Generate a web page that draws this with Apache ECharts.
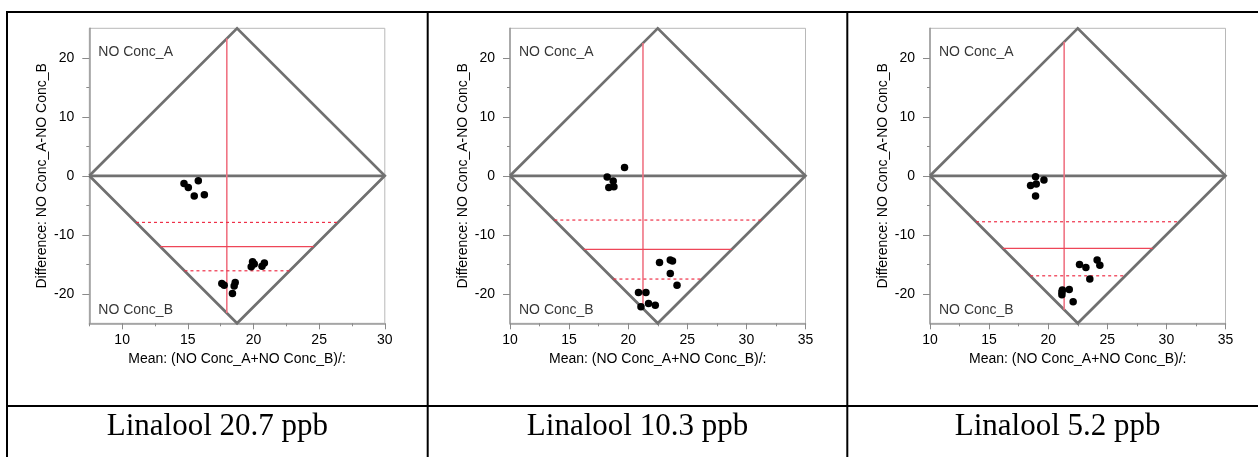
<!DOCTYPE html>
<html>
<head>
<meta charset="utf-8">
<script src="https://cdn.jsdelivr.net/npm/echarts@6/dist/echarts.min.js"></script>
<style>
html,body{margin:0;padding:0;background:#fff;}
#chart{width:1258px;height:457px;}
</style>
</head>
<body>
<div id="chart"></div>
<script>
// ---------- data ----------
const captions = ['Linalool 20.7 ppb', 'Linalool 10.3 ppb', 'Linalool 5.2 ppb'];
const xTitle = 'Mean: (NO Conc_A+NO Conc_B)/:';
const yTitle = 'Difference: NO Conc_A-NO Conc_B';
const labelA = 'NO Conc_A';
const labelB = 'NO Conc_B';

const xRange1 = [7.5, 30];
const xRange2 = [10, 35];
const xRange3 = [10, 35];
const yRange = [-25, 25];

const xTicks1 = [10, 15, 20, 25, 30];
const xTicks2 = [10, 15, 20, 25, 30, 35];
const xTicks3 = [10, 15, 20, 25, 30, 35];
const xMinor1 = [7.5, 12.5, 17.5, 22.5, 27.5];
const xMinor2 = [12.5, 17.5, 22.5, 27.5, 32.5];
const xMinor3 = [12.5, 17.5, 22.5, 27.5, 32.5];
const yTicks = [-20, -10, 0, 10, 20];
const yMinor = [-15, -5, 5, 15];

// points: mean (x) and difference (y)
const mean1 = [14.71, 15.04, 15.80, 15.49, 16.26, 19.93, 19.83, 20.06, 20.83, 20.65, 17.59, 17.77, 18.61, 18.53, 18.40];
const diff1 = [-1.29, -1.97, -0.85, -3.44, -3.22, -14.58, -15.42, -14.97, -14.78, -15.31, -18.24, -18.53, -18.07, -18.69, -19.93];
const mean2 = [19.69, 18.22, 18.73, 18.36, 18.79, 22.65, 23.56, 23.75, 23.56, 24.13, 20.87, 21.50, 21.08, 21.72, 22.29];
const diff2 = [1.42, -0.22, -0.90, -1.97, -1.86, -14.68, -14.29, -14.46, -16.54, -18.53, -19.76, -19.76, -22.20, -21.63, -21.92];
const mean3 = [18.93, 19.64, 18.51, 18.99, 18.93, 22.65, 23.19, 24.14, 24.37, 23.52, 21.20, 21.16, 21.16, 21.78, 22.11];
const diff3 = [-0.17, -0.73, -1.63, -1.41, -3.44, -15.02, -15.53, -14.29, -15.14, -17.51, -19.37, -19.70, -20.14, -19.25, -21.36];

// summary lines
const meanX = [17.97, 21.25, 21.35];
const meanDiff = [-12.0, -12.48, -12.31];
const ciUpper = [-7.9, -7.5, -7.79];
const ciLower = [-16.1, -17.5, -16.95];

// ---------- layout ----------
const gridLefts = [89.3, 510, 930];
const gridTop = 28.3, gridW = 295.5, gridH = 295;
const cellBounds = [7, 427.7, 847.3, 1268];

const panels = [
  {xr: xRange1, xt: xTicks1, xm: xMinor1, mx: mean1, dy: diff1},
  {xr: xRange2, xt: xTicks2, xm: xMinor2, mx: mean2, dy: diff2},
  {xr: xRange3, xt: xTicks3, xm: xMinor3, mx: mean3, dy: diff3}
];

const FONT = '"Liberation Sans", Arial, sans-serif';
const grids = [], xAxes = [], yAxes = [], series = [];

panels.forEach((p, i) => {
  grids.push({left: gridLefts[i], top: gridTop, width: gridW, height: gridH,
    show: true, borderColor: '#b8b8b8', borderWidth: 1, backgroundColor: 'transparent'});
  const xi = xAxes.length, yi = yAxes.length;
  xAxes.push({
    type: 'value', gridIndex: i, position: 'bottom', min: p.xr[0], max: p.xr[1],
    axisLine: {show: true, onZero: false, lineStyle: {color: '#9a9a9a', width: 1.5}},
    axisTick: {show: true, customValues: p.xt, length: 6, lineStyle: {color: '#8a8a8a'}},
    axisLabel: {show: true, customValues: p.xt, margin: 10, color: '#000', fontSize: 14, fontFamily: FONT},
    splitLine: {show: false},
    name: xTitle, nameLocation: 'middle', nameGap: 29,
    nameTextStyle: {color: '#000', fontSize: 14, fontFamily: FONT}
  });
  xAxes.push({
    type: 'value', gridIndex: i, position: 'bottom', min: p.xr[0], max: p.xr[1],
    axisLine: {show: false, onZero: false},
    axisTick: {show: true, customValues: p.xm, length: 3, lineStyle: {color: '#8a8a8a'}},
    axisLabel: {show: false}, splitLine: {show: false}
  });
  yAxes.push({
    type: 'value', gridIndex: i, position: 'left', min: yRange[0], max: yRange[1],
    axisLine: {show: true, onZero: false, lineStyle: {color: '#9a9a9a', width: 1.5}},
    axisTick: {show: true, customValues: yTicks, length: 7, lineStyle: {color: '#8a8a8a'}},
    axisLabel: {show: true, customValues: yTicks, margin: 15, color: '#000', fontSize: 14, fontFamily: FONT},
    splitLine: {show: false},
    name: yTitle, nameLocation: 'middle', nameGap: 40,
    nameTextStyle: {color: '#000', fontSize: 14, fontFamily: FONT}
  });
  yAxes.push({
    type: 'value', gridIndex: i, position: 'left', min: yRange[0], max: yRange[1],
    axisLine: {show: false, onZero: false},
    axisTick: {show: true, customValues: yMinor, length: 3, lineStyle: {color: '#8a8a8a'}},
    axisLabel: {show: false}, splitLine: {show: false}
  });

  const x0 = p.xr[0], x1 = p.xr[1], mid = (x0 + x1) / 2, half = (x1 - x0) / 2, ym = yRange[1];
  const base = {xAxisIndex: xi, yAxisIndex: yi, symbol: 'none', silent: true, animation: false};
  // diamond + zero line
  series.push(Object.assign({}, base, {type: 'line', clip: false, z: 3,
    data: [[x0, 0], [mid, ym], [x1, 0], [mid, -ym], [x0, 0]],
    lineStyle: {color: '#707070', width: 2.7, join: 'miter'}}));
  series.push(Object.assign({}, base, {type: 'line', clip: false, z: 3,
    data: [[x0, 0], [x1, 0]], lineStyle: {color: '#707070', width: 2.7}}));
  // vertical mean line spanning diamond
  const yTop = ym * (1 - Math.abs(meanX[i] - mid) / half);
  series.push(Object.assign({}, base, {type: 'line', z: 4,
    data: [[meanX[i], yTop], [meanX[i], -yTop]], lineStyle: {color: '#f07484', width: 1.6}}));
  const hLine = (d) => {
    const off = half * Math.abs(d) / ym;
    return [[x0 + off, d], [x1 - off, d]];
  };
  series.push(Object.assign({}, base, {type: 'line', z: 4,
    data: hLine(meanDiff[i]), lineStyle: {color: '#ee4658', width: 1.3}}));
  series.push(Object.assign({}, base, {type: 'line', z: 4,
    data: hLine(ciUpper[i]), lineStyle: {color: '#ee3048', width: 1.2, type: [3, 3]}}));
  series.push(Object.assign({}, base, {type: 'line', z: 4,
    data: hLine(ciLower[i]), lineStyle: {color: '#ee3048', width: 1.2, type: [3, 3]}}));
  // points
  series.push({type: 'scatter', xAxisIndex: xi, yAxisIndex: yi, z: 6, animation: false,
    symbol: 'circle', symbolSize: 7.5, itemStyle: {color: '#000', opacity: 1},
    data: p.mx.map((m, k) => [m, p.dy[k]])});
  // corner labels
  series.push({type: 'scatter', xAxisIndex: xi, yAxisIndex: yi, z: 6, animation: false, silent: true,
    symbolSize: 0, itemStyle: {color: 'transparent'},
    data: [[x0, 20.9, labelA], [x0, -22.8, labelB]],
    label: {show: true, position: 'right', distance: 9, formatter: (q) => q.data[2],
      color: '#000', fontSize: 14, fontFamily: FONT}});
});

// table lines & captions
const graphic = [];
const LW = 2;
graphic.push({type: 'line', shape: {x1: 6, y1: 12, x2: 1258, y2: 12}, style: {stroke: '#000', lineWidth: LW}});
graphic.push({type: 'line', shape: {x1: 6, y1: 406, x2: 1258, y2: 406}, style: {stroke: '#000', lineWidth: LW}});
[cellBounds[0], cellBounds[1], cellBounds[2]].forEach(x => {
  graphic.push({type: 'line', shape: {x1: x, y1: 11, x2: x, y2: 457}, style: {stroke: '#000', lineWidth: LW}});
});
captions.forEach((c, i) => {
  graphic.push({type: 'text', x: (cellBounds[i] + cellBounds[i + 1]) / 2, y: 426.5,
    style: {text: c, fill: '#000', font: '31px "Liberation Serif", "Times New Roman", serif',
      textAlign: 'center', textVerticalAlign: 'middle'}});
});

const chart = echarts.init(document.getElementById('chart'), null, {renderer: 'canvas'});
chart.setOption({
  animation: false,
  backgroundColor: '#fff',
  grid: grids, xAxis: xAxes, yAxis: yAxes, series: series, graphic: graphic
});
</script>
</body>
</html>
